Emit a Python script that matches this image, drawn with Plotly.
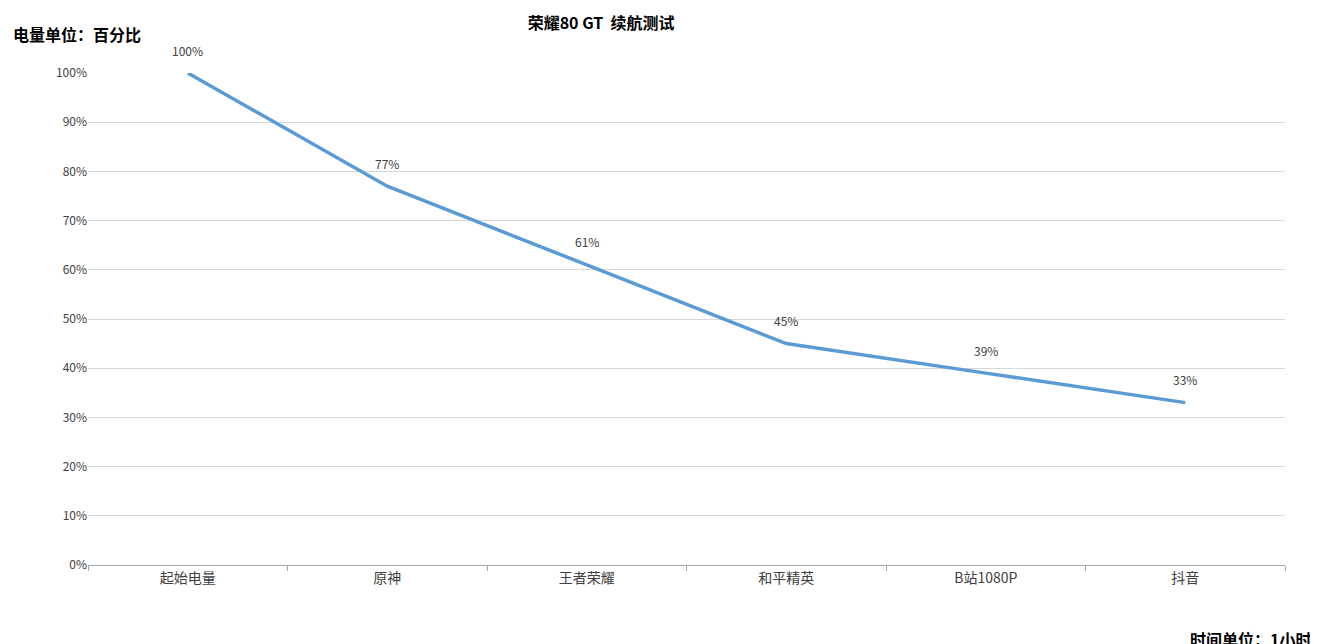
import plotly.graph_objects as go

categories = ["起始电量", "原神", "王者荣耀", "和平精英", "B站1080P", "抖音"]
battery = [100, 77, 61, 45, 39, 33]
labels = ["100%", "77%", "61%", "45%", "39%", "33%"]

font_cn = "Noto Sans CJK SC, Microsoft YaHei, sans-serif"

fig = go.Figure()
fig.add_trace(go.Scatter(
    x=categories, y=battery, mode="lines",
    line=dict(color="#5B9BD5", width=3.5),
    cliponaxis=False, hoverinfo="x+y",
))

# data labels sit well above each point, Excel style
point_labels = [
    dict(x=c, y=v, text=t, xref="x", yref="y", showarrow=False,
         yshift=23, font=dict(size=12, color="#404040", family=font_cn))
    for c, v, t in zip(categories, battery, labels)
]

fig.update_layout(
    width=1318, height=644,
    margin=dict(l=80, r=41, t=65, b=87, autoexpand=False),
    paper_bgcolor="white", plot_bgcolor="white",
    showlegend=False,
    font=dict(family=font_cn, color="#404040"),
    title=dict(text="<b>荣耀80 GT  续航测试</b>", x=0.45, xanchor="center",
               y=0.985, yanchor="top", font=dict(size=16, color="black")),
    xaxis=dict(
        type="category", tickson="boundaries", ticks="outside", ticklen=5,
        range=[-0.5, 5.5], automargin=False,
        tickcolor="#a6a6a6", showline=True, linecolor="#a6a6a6",
        showgrid=False, tickfont=dict(size=14, color="#404040"),
    ),
    yaxis=dict(
        range=[0, 100], dtick=10, ticksuffix="%", showgrid=True,
        automargin=False,
        gridcolor="#d9d9d9", zeroline=False, showline=False,
        tickfont=dict(size=12, color="#404040"),
    ),
    annotations=point_labels + [
        dict(text="<b>电量单位：百分比</b>", xref="paper", yref="paper",
             x=-0.064, y=1.08, xanchor="left", yanchor="middle",
             showarrow=False, font=dict(size=16, color="black")),
        dict(text="<b>时间单位：1小时</b>", xref="paper", yref="paper",
             x=1.023, y=-0.15, xanchor="right", yanchor="middle",
             showarrow=False, font=dict(size=16, color="black")),
    ],
)

fig.write_html("out.html")
